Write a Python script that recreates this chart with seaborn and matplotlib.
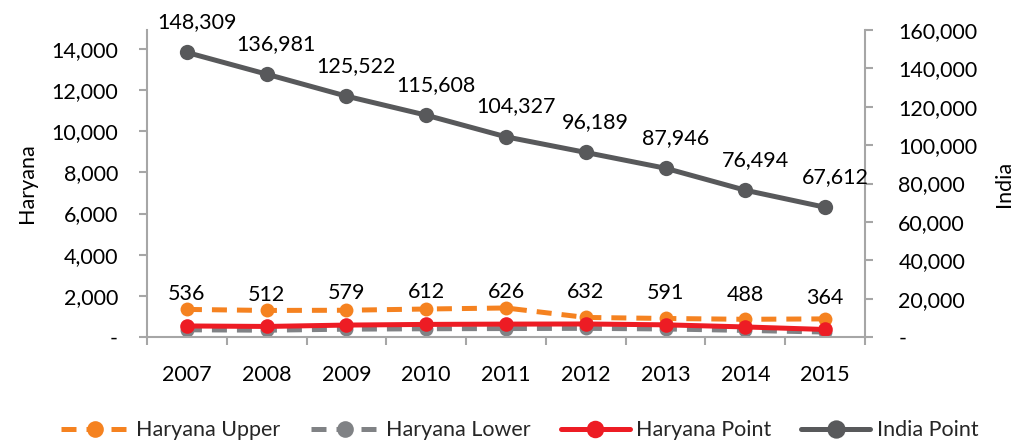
import matplotlib
matplotlib.use("Agg")
import matplotlib.pyplot as plt
import seaborn as sns
import pandas as pd
from matplotlib.ticker import FuncFormatter, FixedLocator

sns.set_theme(style="white")
plt.rcParams['font.family'] = ['Lato', 'DejaVu Sans']

years = ['2007', '2008', '2009', '2010', '2011', '2012', '2013', '2014', '2015']
haryana_upper = [1340, 1290, 1300, 1360, 1410, 950, 900, 860, 880]
haryana_lower = [350, 330, 380, 400, 410, 420, 390, 320, 240]
haryana_point = [536, 512, 579, 612, 626, 632, 591, 488, 364]
india_point = [148309, 136981, 125522, 115608, 104327, 96189, 87946, 76494, 67612]

df = pd.DataFrame({
    'pos': range(len(years)),
    'upper': haryana_upper,
    'lower': haryana_lower,
    'point': haryana_point,
    'india': india_point,
})

c_upper = '#F58220'
c_lower = '#808285'
c_point = '#ED1C24'
c_india = '#58595B'
axis_grey = '#A6A6A6'
fs = 15.5

fig = plt.figure(figsize=(10.29, 4.48), dpi=100)
ax = fig.add_axes([0.1429, 0.2478, 0.6977, 0.6852])
ax2 = ax.twinx()

dash = (0, (3, 2))
sns.lineplot(data=df, x='pos', y='lower', ax=ax, color=c_lower, lw=3.6,
             linestyle=dash, marker='o', markersize=10, markeredgewidth=0,
             label='Haryana Lower', legend=False)
sns.lineplot(data=df, x='pos', y='upper', ax=ax, color=c_upper, lw=3.6,
             linestyle=dash, marker='o', markersize=10, markeredgewidth=0,
             label='Haryana Upper', legend=False)
sns.lineplot(data=df, x='pos', y='point', ax=ax, color=c_point, lw=3.6,
             marker='o', markersize=10.5, markeredgewidth=0,
             label='Haryana Point', legend=False)
sns.lineplot(data=df, x='pos', y='india', ax=ax2, color=c_india, lw=3.6,
             marker='o', markersize=11, markeredgewidth=0,
             label='India Point', legend=False)

for i, v in enumerate(haryana_point):
    ax.annotate(f'{v:,}', (i, v), xytext=(0, 23), textcoords='offset points',
                ha='center', va='center', fontsize=fs, color='black')
for i, v in enumerate(india_point):
    ax2.annotate(f'{v:,}', (i, v), xytext=(7, 22), textcoords='offset points',
                 ha='center', va='center', fontsize=fs, color='black')

fmt = FuncFormatter(lambda v, p: '-' if v == 0 else f'{v:,.0f}')

ax.set_xlim(-0.5, len(years) - 0.5)
ax.set_ylim(0, 14924)
ax.set_yticks(range(0, 14001, 2000))
ax.yaxis.set_major_formatter(fmt)
ax2.set_ylim(0, 160000)
ax2.set_yticks(range(0, 160001, 20000))
ax2.yaxis.set_major_formatter(fmt)

ax.set_xticks(range(len(years)))
ax.set_xticklabels(years)
ax.xaxis.set_minor_locator(FixedLocator([i + 0.5 for i in range(-1, len(years))]))
ax.tick_params(axis='x', which='major', length=0, pad=20, labelsize=fs, labelcolor='black')
ax.tick_params(axis='x', which='minor', length=6, width=1.5, color=axis_grey, bottom=True)
ax.tick_params(axis='y', length=6, width=1.5, color=axis_grey, labelsize=fs, pad=15,
               left=True, labelcolor='black')
ax2.tick_params(axis='y', length=6, width=1.5, color=axis_grey, labelsize=fs, pad=18,
                right=True, labelcolor='black')

ax.set_xlabel('')
ax.set_ylabel('Haryana', fontsize=fs, labelpad=10, color='black')
ax2.set_ylabel('India', fontsize=fs, labelpad=12, color='black')

for a in (ax, ax2):
    for s in a.spines.values():
        s.set_visible(False)
        s.set_color(axis_grey)
        s.set_linewidth(1.5)
ax.spines['left'].set_visible(True)
ax.spines['bottom'].set_visible(True)
ax2.spines['right'].set_visible(True)
ax.grid(False)
ax2.grid(False)

h1, l1 = ax.get_legend_handles_labels()
h2, l2 = ax2.get_legend_handles_labels()
handles = dict(zip(l1 + l2, h1 + h2))
order = ['Haryana Upper', 'Haryana Lower', 'Haryana Point', 'India Point']
fig.legend([handles[k] for k in order], order, loc='center', ncol=4,
           bbox_to_anchor=(0.505, 0.04), frameon=False, fontsize=fs,
           handlelength=3.2, columnspacing=1.4, handletextpad=0.3, markerscale=1.2)

fig.savefig('out.png', dpi=100)
